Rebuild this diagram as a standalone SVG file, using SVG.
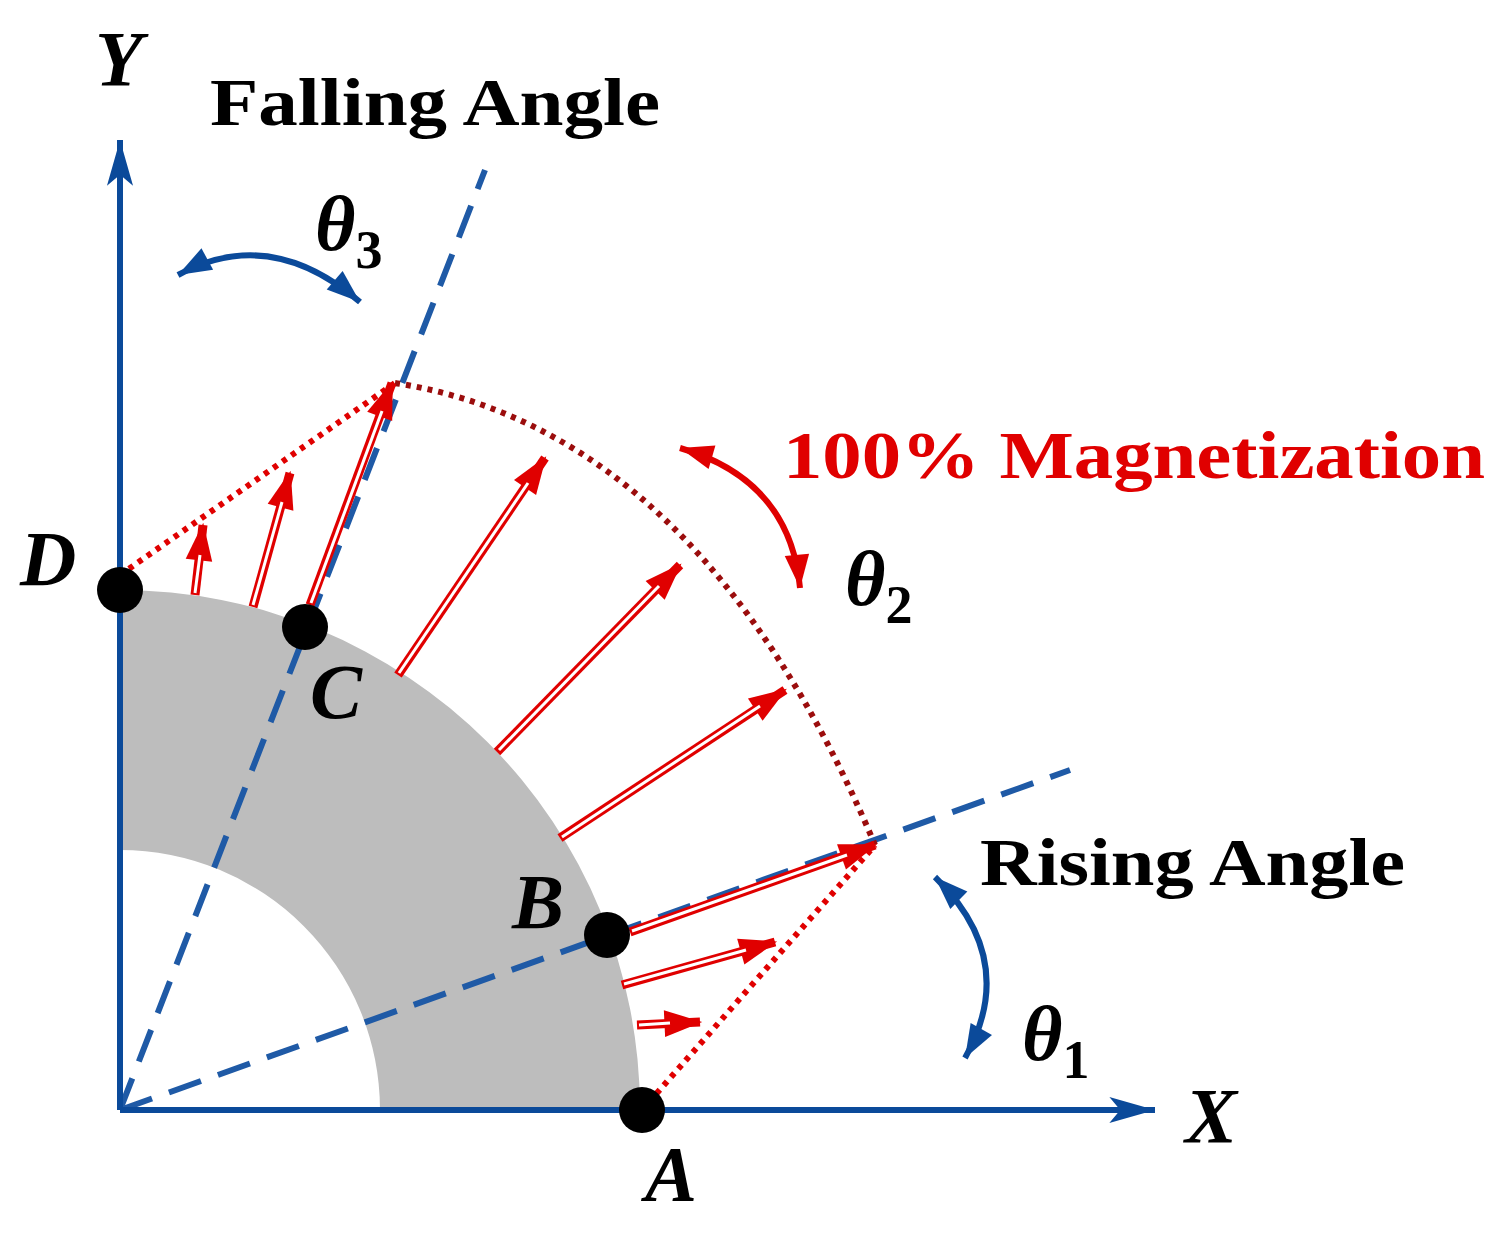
<svg xmlns="http://www.w3.org/2000/svg" width="1506" height="1233" viewBox="0 0 1506 1233">
<style>
.ax{stroke:#0b4a9a;stroke-width:6;fill:none}
.dash{stroke:#1f5aa6;stroke-width:6;fill:none;stroke-dasharray:34 18}
.r{stroke:#e00000;stroke-width:9;fill:none;marker-end:url(#rh)}
.w{stroke:#fff;stroke-width:3;fill:none}
.lab{font-family:"Liberation Serif",serif;font-weight:bold;font-size:68px}
.it{font-family:"Liberation Serif",serif;font-weight:bold;font-style:italic;font-size:78px}
.dot{fill:#000}
</style>
<defs>
<marker id="rh" markerUnits="userSpaceOnUse" markerWidth="40" markerHeight="30" viewBox="-34 -13 36 26" refX="0" refY="0" orient="auto"><path d="M2,0 L-32,-12 L-32,12 z" fill="#e00000"/></marker>
<marker id="bh" markerUnits="userSpaceOnUse" markerWidth="50" markerHeight="30" viewBox="-44 -13 46 26" refX="0" refY="0" orient="auto"><path d="M0,0 L-42,-12 L-32,0 L-42,12 z" fill="#0b4a9a"/></marker>
<marker id="ch" markerUnits="userSpaceOnUse" markerWidth="40" markerHeight="30" viewBox="-34 -13 36 26" refX="0" refY="0" orient="auto" ><path d="M0,0 L-30,-11 L-30,11 z" fill="context-stroke"/></marker>
<marker id="cs" markerUnits="userSpaceOnUse" markerWidth="40" markerHeight="30" viewBox="-34 -13 36 26" refX="0" refY="0" orient="auto-start-reverse"><path d="M0,0 L-30,-11 L-30,11 z" fill="context-stroke"/></marker>
</defs>
<g id="magnet"><path d="M120,590 A520,520 0 0 1 640,1110 L380,1110 A260,260 0 0 0 120,850 Z" fill="#bdbdbd"/></g>
<g id="connectors">
<path class="dash" d="M120,1110 L1070,770"/>
<path class="dash" d="M120,1110 L485,170"/>
<path class="ax" d="M120,1110 L120,140" marker-end="url(#bh)"/>
<path class="ax" d="M120,1110 L1155,1110" marker-end="url(#bh)"/>
<path d="M642,1110 L875,845" stroke="#e00000" stroke-width="6" stroke-dasharray="5 6" fill="none"/>
<path d="M120,575 L395,383" stroke="#e00000" stroke-width="6" stroke-dasharray="5 6" fill="none"/>
<path d="M395,383 Q700,430 875,845" stroke="#9b0d0d" stroke-width="6" stroke-dasharray="5 6" fill="none"/>
<line class="r" x1="630" y1="932" x2="875" y2="845"/><line class="w" x1="632" y1="931" x2="847" y2="855"/>
<line class="r" x1="622" y1="985" x2="775" y2="942"/><line class="w" x1="624" y1="984" x2="746" y2="950"/>
<line class="r" x1="637" y1="1025" x2="700" y2="1022"/><line class="w" x1="639" y1="1025" x2="670" y2="1023"/>
<line class="r" x1="560" y1="838" x2="785" y2="690"/><line class="w" x1="562" y1="837" x2="760" y2="706"/>
<line class="r" x1="497" y1="752" x2="680" y2="565"/><line class="w" x1="499" y1="750" x2="659" y2="586"/>
<line class="r" x1="398" y1="675" x2="545" y2="458"/><line class="w" x1="399" y1="673" x2="528" y2="483"/>
<line class="r" x1="310" y1="605" x2="392" y2="383"/><line class="w" x1="311" y1="603" x2="382" y2="411"/>
<line class="r" x1="253" y1="607" x2="290" y2="473"/><line class="w" x1="253" y1="605" x2="282" y2="502"/>
<line class="r" x1="195" y1="595" x2="203" y2="525"/><line class="w" x1="195" y1="593" x2="200" y2="555"/>
<path d="M178,275 Q270,225 360,302" stroke="#0b4a9a" stroke-width="6" fill="none" marker-start="url(#cs)" marker-end="url(#ch)"/>
<path d="M680,448 Q790,480 800,588" stroke="#e00000" stroke-width="6" fill="none" marker-start="url(#cs)" marker-end="url(#ch)"/>
<path d="M935,877 Q1020,960 965,1058" stroke="#0b4a9a" stroke-width="6" fill="none" marker-start="url(#cs)" marker-end="url(#ch)"/>
</g>
<g id="A"><circle class="dot" cx="642" cy="1110" r="23"/><text class="it" x="645" y="1200">A</text></g>
<g id="B"><circle class="dot" cx="607" cy="935" r="23"/><text class="it" x="512" y="928">B</text></g>
<g id="C"><circle class="dot" cx="305" cy="627" r="23"/><text class="it" x="310" y="718">C</text></g>
<g id="D"><circle class="dot" cx="120" cy="590" r="23"/><text class="it" x="20" y="585">D</text></g>
<g id="labels">
<text class="it" x="95" y="85">Y</text>
<text class="it" x="1185" y="1142">X</text>
<text class="lab" x="210" y="125" textLength="450" lengthAdjust="spacingAndGlyphs">Falling Angle</text>
<text class="lab" x="783" y="478" fill="#e00000" textLength="702" lengthAdjust="spacingAndGlyphs">100% Magnetization</text>
<text class="lab" x="980" y="885" textLength="425" lengthAdjust="spacingAndGlyphs">Rising Angle</text>
<text class="it" x="315" y="250">θ<tspan font-size="54" font-style="normal" dy="18">3</tspan></text>
<text class="it" x="845" y="605">θ<tspan font-size="54" font-style="normal" dy="18">2</tspan></text>
<text class="it" x="1022" y="1060">θ<tspan font-size="54" font-style="normal" dy="18">1</tspan></text>
</g>
</svg>
